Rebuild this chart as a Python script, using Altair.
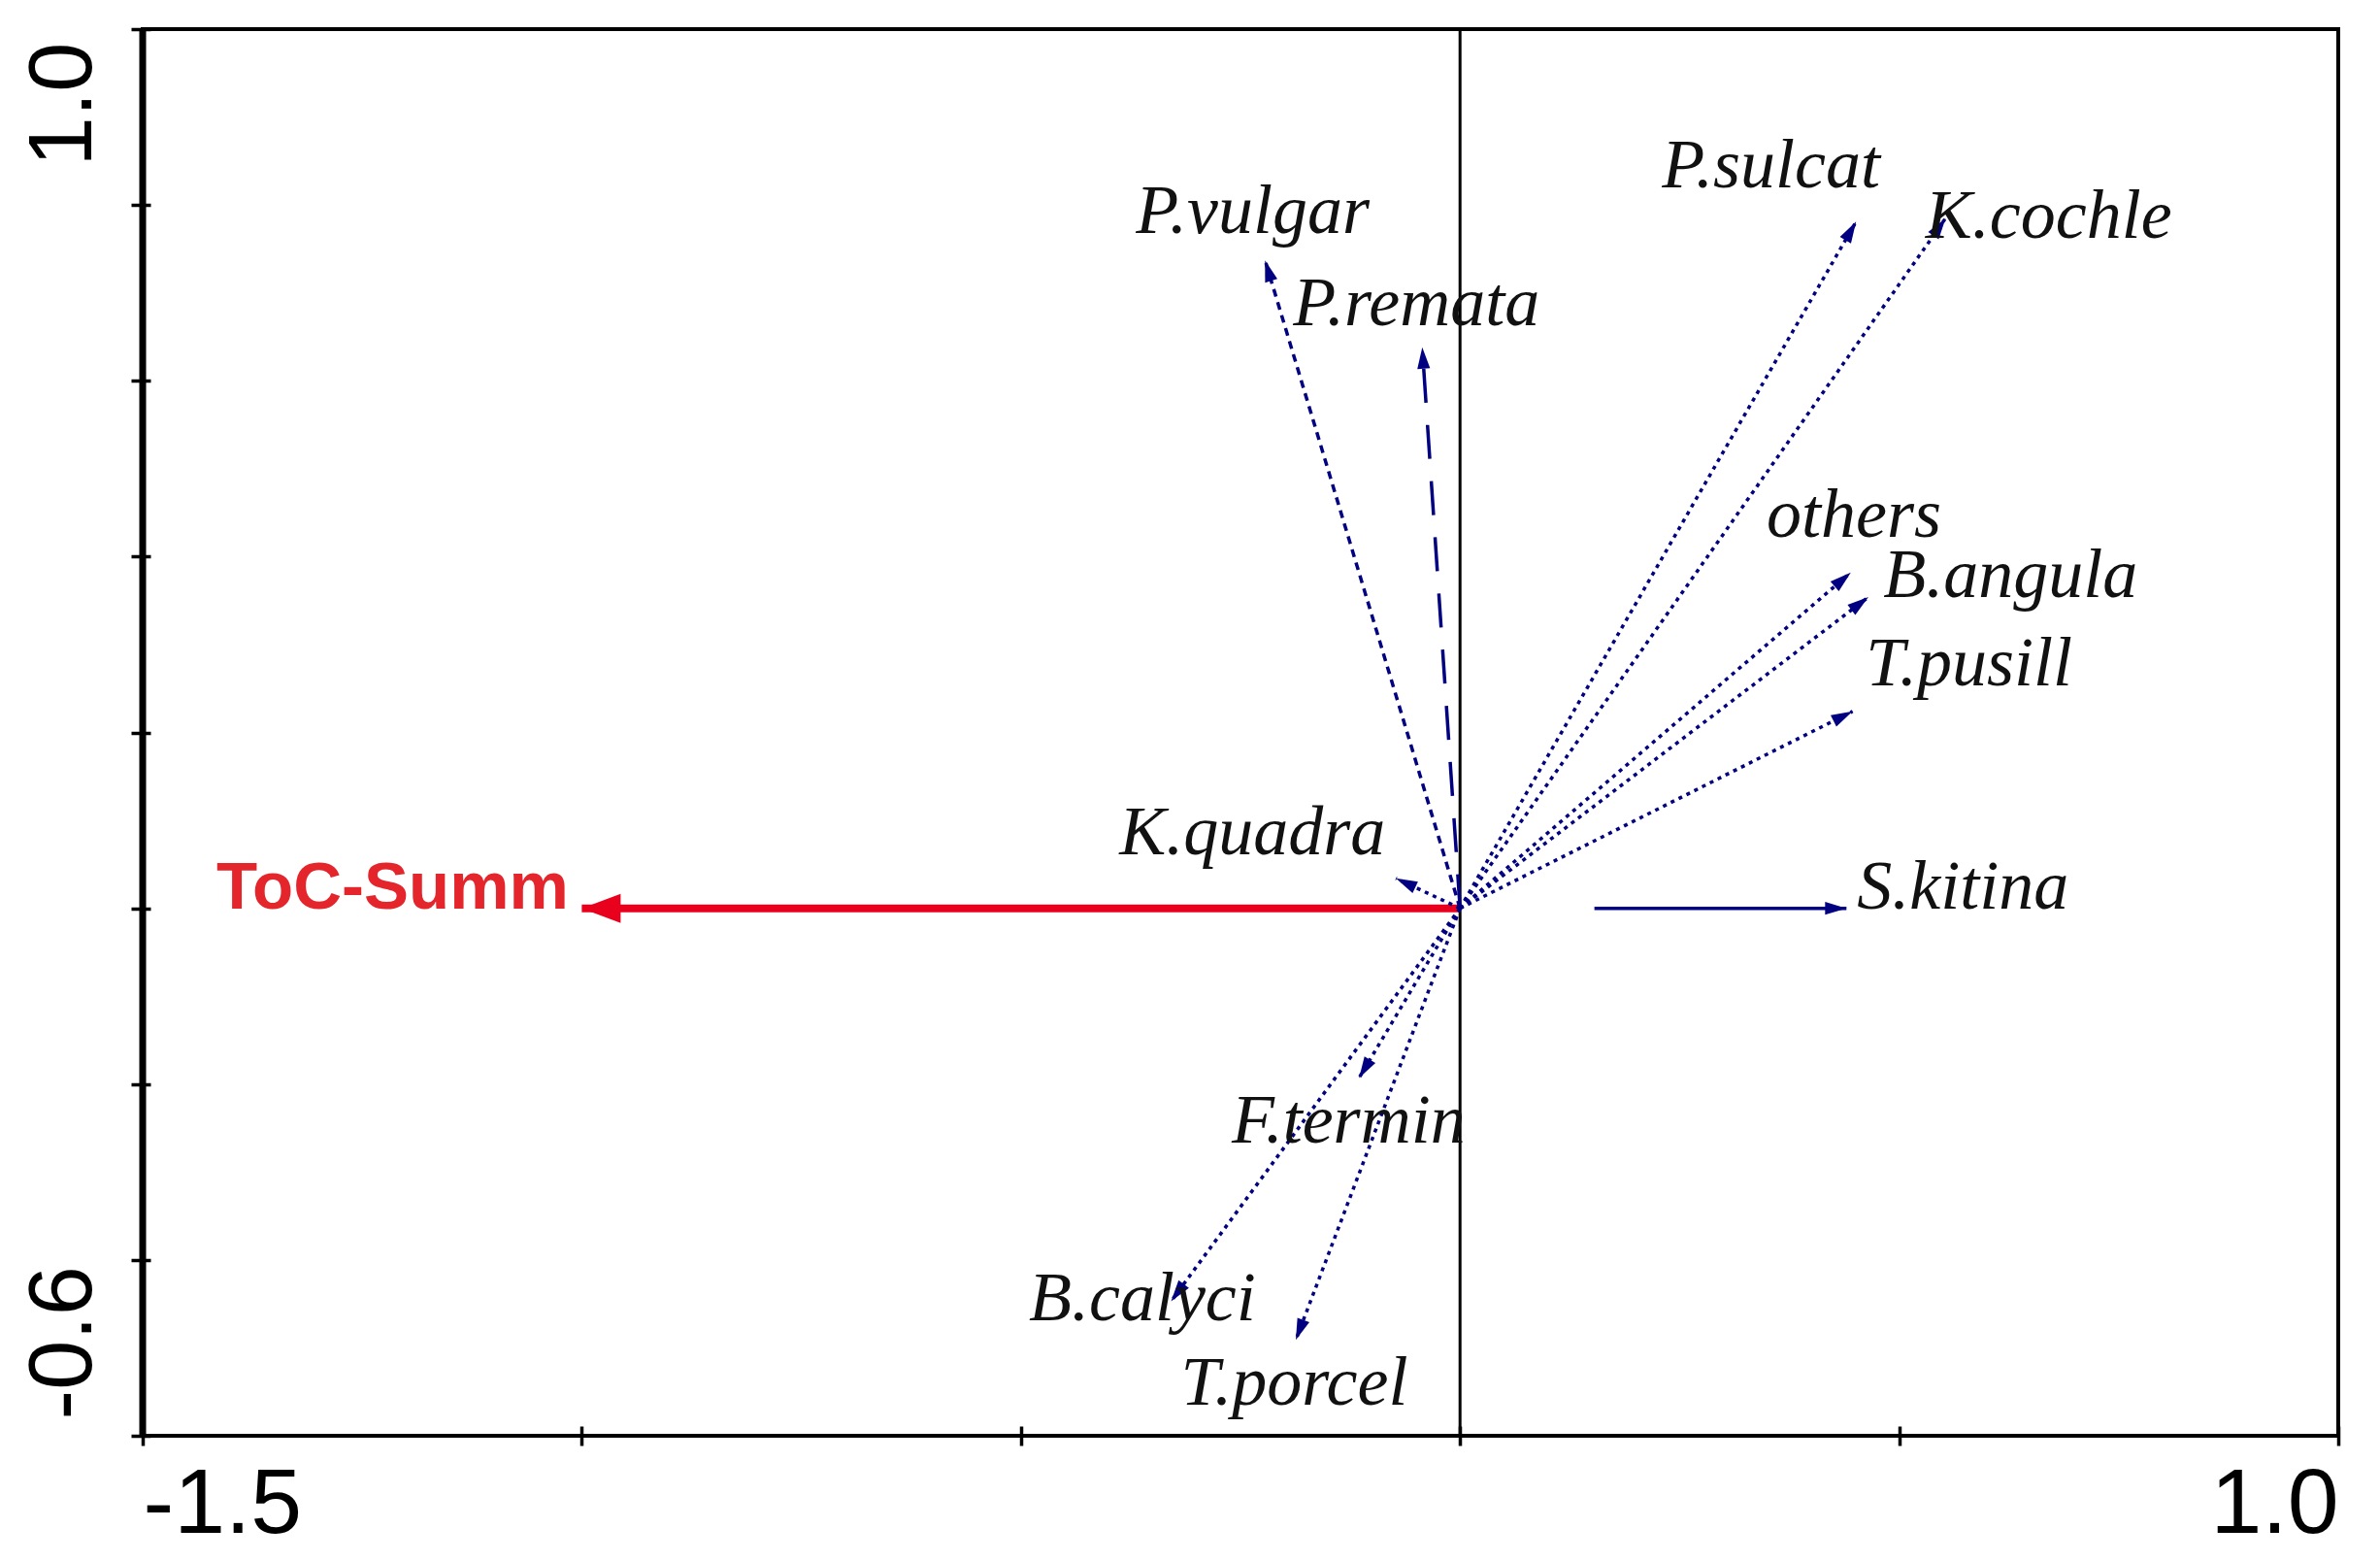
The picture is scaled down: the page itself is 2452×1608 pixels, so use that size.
import altair as alt
import pandas as pd

# ---------------- data ----------------
SPECIES = ["P.vulgar", "P.remata", "P.sulcat", "K.cochle", "others", "B.angula",
           "T.pusill", "K.quadra", "S.kitina", "F.termin", "B.calyci", "T.porcel"]
ARROW_X = [-0.222, -0.043, 0.451, 0.553, 0.445, 0.465, 0.447, -0.073, 0.440, -0.115, -0.329, -0.187]
ARROW_Y = [0.737, 0.638, 0.781, 0.785, 0.382, 0.354, 0.224, 0.034, 0.000, -0.193, -0.447, -0.491]
START_X = [0.0, 0.0, 0.0, 0.0, 0.0, 0.0, 0.0, 0.0, 0.153, 0.0, 0.0, 0.0]
START_Y = [0.0, 0.0, 0.0, 0.0, 0.0, 0.0, 0.0, 0.0, 0.0, 0.0, 0.0, 0.0]
LABEL_X = [-0.369, -0.190, 0.230, 0.530, 0.349, 0.482, 0.462, -0.388, 0.452, -0.260, -0.491, -0.318]
LABEL_Y = [0.768, 0.663, 0.820, 0.763, 0.422, 0.354, 0.254, 0.0615, 0.000, -0.267, -0.469, -0.565]

ENV_NAME = ["ToC-Summ"]
ENV_X = [-1.0]
ENV_Y = [0.0]
ENV_LABEL_X = [-1.416]
ENV_LABEL_Y = [0.0]

X_DOMAIN = [-1.5, 1.0]
Y_DOMAIN = [-0.6, 1.0]
X_TICKS = [-1.5, -1.0, -0.5, 0.0, 0.5, 1.0]
Y_TICKS = [-0.6, -0.4, -0.2, 0.0, 0.2, 0.4, 0.6, 0.8, 1.0]
X_TICK_LABELS = ["-1.5", "1.0"]   # shown only at the two ends
Y_TICK_LABELS = ["-0.6", "1.0"]

# ---------------- styles ----------------
NAVY = "#000080"
RED = "#E8001C"
RED_TEXT = "#E4262C"
LINE_STYLE = {"P.vulgar": "dash", "P.remata": "longdash", "S.kitina": "solid"}
STYLE_NAMES = ["dot", "dash", "longdash", "solid"]
STYLE_DASHES = [[4, 5], [8, 6], [35, 23], [1, 0]]
HEAD_SHAPE = "M0,0L0.6,2L-0.6,2Z"

arrows = pd.DataFrame({
    "name": SPECIES, "x0": START_X, "y0": START_Y, "x": ARROW_X, "y": ARROW_Y,
    "lx": LABEL_X, "ly": LABEL_Y,
})
arrows["style"] = [LINE_STYLE.get(n, "dot") for n in SPECIES]
env = pd.DataFrame({"name": ENV_NAME, "x0": [0.0], "y0": [0.0], "x": ENV_X, "y": ENV_Y,
                    "lx": ENV_LABEL_X, "ly": ENV_LABEL_Y})

xs = alt.Scale(domain=X_DOMAIN, nice=False, zero=False)
ys = alt.Scale(domain=Y_DOMAIN, nice=False, zero=False)

x_label_expr = (f"datum.value == {X_TICKS[0]} ? '{X_TICK_LABELS[0]}' : "
                f"(datum.value == {X_TICKS[-1]} ? '{X_TICK_LABELS[1]}' : '')")
y_label_expr = (f"datum.value == {Y_TICKS[0]} ? '{Y_TICK_LABELS[0]}' : "
                f"(datum.value == {Y_TICKS[-1]} ? '{Y_TICK_LABELS[1]}' : '')")

x_axis = alt.Axis(
    values=X_TICKS, labelExpr=x_label_expr, title=None, grid=False, domain=False,
    ticks=True, tickSize=20, tickWidth=3.5, tickColor="black", offset=-10,
    labelFont="Liberation Sans", labelFontSize=95, labelColor="black",
    labelBaseline="alphabetic", labelPadding=89, labelOverlap=False, labelFlush=False,
    labelAlign={"condition": {"test": "datum.value < 0", "value": "left"}, "value": "right"},
)
y_axis = alt.Axis(
    values=Y_TICKS, labelExpr=y_label_expr, title=None, grid=False, domain=False,
    ticks=True, tickSize=20, tickWidth=3.5, tickColor="black", offset=-8,
    labelFont="Liberation Sans", labelFontSize=92, labelColor="black",
    labelAngle=270, labelBaseline="alphabetic", labelPadding=42, labelOverlap=False,
    labelFlush=False,
    labelAlign={"condition": {"test": "datum.value < 0", "value": "left"}, "value": "right"},
    labelOffset={"condition": {"test": "datum.value < 0", "value": -17}, "value": 13},
)

X = lambda f: alt.X(f"{f}:Q", scale=xs, axis=x_axis)
Y = lambda f: alt.Y(f"{f}:Q", scale=ys, axis=y_axis)

zero_line = alt.Chart(pd.DataFrame({"v": [0.0]})).mark_rule(
    color="black", strokeWidth=3).encode(x=X("v"))
left_frame = alt.Chart(pd.DataFrame({"v": [X_DOMAIN[0]]})).mark_rule(
    color="black", strokeWidth=7).encode(x=X("v"))

lines = alt.Chart(arrows).mark_rule(color=NAVY, strokeWidth=3.5).encode(
    x=X("x0"), y=Y("y0"), x2="x:Q", y2="y:Q",
    strokeDash=alt.StrokeDash("style:N", scale=alt.Scale(domain=STYLE_NAMES, range=STYLE_DASHES),
                              legend=None),
)
heads = alt.Chart(arrows).transform_calculate(
    ang="(atan2(datum.x - datum.x0, datum.y - datum.y0) * 180 / PI + 360) % 360"
).mark_point(shape=HEAD_SHAPE, size=484, filled=True, color=NAVY, opacity=1).encode(
    x=X("x"), y=Y("y"), angle=alt.Angle("ang:Q", scale=None))
labels = alt.Chart(arrows).mark_text(
    align="left", baseline="alphabetic", font="Liberation Serif", fontStyle="italic",
    fontSize=72, color="#111111").encode(x=X("lx"), y=Y("ly"), text="name:N")

env_line = alt.Chart(env).mark_rule(color=RED, strokeWidth=8).encode(
    x=X("x0"), y=Y("y0"), x2="x:Q", y2="y:Q")
env_head = alt.Chart(env).transform_calculate(
    ang="(atan2(datum.x - datum.x0, datum.y - datum.y0) * 180 / PI + 360) % 360"
).mark_point(shape="M0,0L0.75,2L-0.75,2Z", size=1600, filled=True, color=RED, opacity=1).encode(
    x=X("x"), y=Y("y"), angle=alt.Angle("ang:Q", scale=None))
env_label = alt.Chart(env).mark_text(
    align="left", baseline="alphabetic", font="Liberation Sans", fontWeight="bold",
    fontSize=69, color=RED_TEXT).encode(x=X("lx"), y=Y("ly"), text="name:N")

chart = alt.layer(
    zero_line, left_frame, env_line, env_head, lines, heads, labels, env_label
).properties(
    width=2262, height=1449,
    autosize=alt.AutoSizeParams(type="none"),
    padding={"left": 139, "top": 22, "right": 30, "bottom": 119},
    background="white",
).configure_view(stroke="black", strokeWidth=4)

chart.save("out.html", embed_options={"renderer": "svg", "actions": False})
